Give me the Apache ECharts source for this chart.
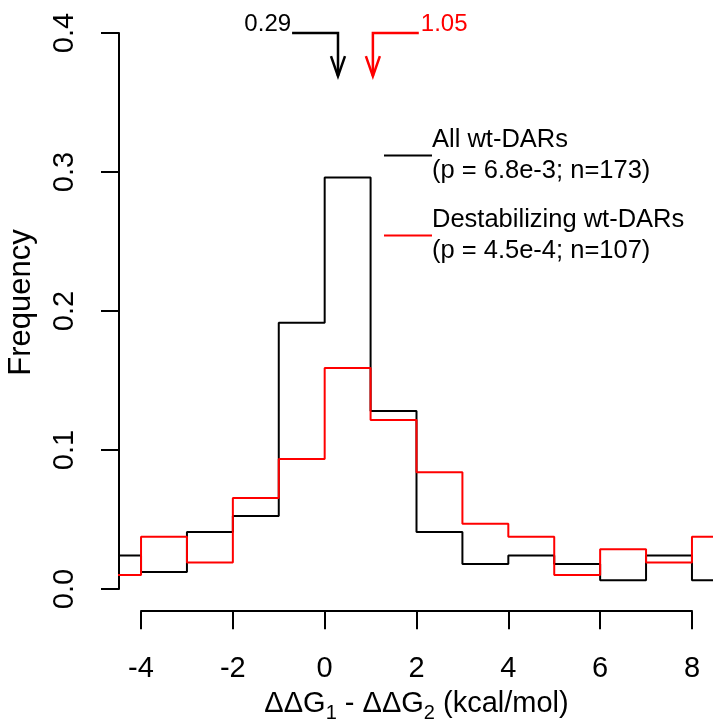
<!DOCTYPE html>
<html>
<head>
<meta charset="utf-8">
<script src="https://cdn.jsdelivr.net/npm/echarts@6/dist/echarts.min.js"></script>
<style>
  html, body { margin: 0; padding: 0; background: #ffffff; }
  #chart { width: 713px; height: 719px; }
</style>
</head>
<body>
<div id="chart"></div>
<script>
// Histogram bin edges (kcal/mol) and per-bin frequencies
const binEdges = [-5, -4, -3, -2, -1, 0, 1, 2, 3, 4, 5, 6, 7, 8, 9];
const allFreq = [0.0240, 0.0122, 0.0410, 0.0525, 0.1915, 0.2960, 0.1280,
                 0.0410, 0.0180, 0.0240, 0.0180, 0.0062, 0.0240, 0.0062];
const destabFreq = [0.0100, 0.0375, 0.0190, 0.0655, 0.0935, 0.1590, 0.1215,
                    0.0840, 0.0470, 0.0375, 0.0100, 0.0285, 0.0190, 0.0375];

// Group labels, statistics lines and colours
const groupNames = ['All wt-DARs', 'Destabilizing wt-DARs'];
const groupStats = ['(p = 6.8e-3; n=173)', '(p = 4.5e-4; n=107)'];
const groupColors = ['#000000', '#ff0000'];

// Median shift of each group, marked with an arrow at the top
const medianShift = [0.29, 1.05];

// Axis ranges and ticks
const xTickMin = -4, xTickMax = 8, xTickStep = 2;
const yTickMin = 0, yTickMax = 0.4, yTickStep = 0.1;
const xPlotMin = -4.48, xPlotMax = 8.48;
const yPlotMin = -0.016, yPlotMax = 0.416;

const FONT = '"Liberation Sans", Arial, Helvetica, sans-serif';

// Turn bins into the outline of an R-style step histogram
function stepOutline(edges, vals) {
  const pts = [];
  for (let i = 0; i < vals.length; i++) {
    pts.push([edges[i], vals[i]]);
    pts.push([edges[i + 1], vals[i]]);
  }
  return pts;
}

const chart = echarts.init(document.getElementById('chart'), null, { renderer: 'canvas' });

const plotBox = { left: 119, top: 10.8, width: 595, height: 600.4, outerBoundsMode: 'none', containLabel: false };

const option = {
  animation: false,
  backgroundColor: '#ffffff',
  textStyle: { fontFamily: FONT, color: '#000' },
  grid: [
    // plotting region
    Object.assign({}, plotBox),
    // x axis spans only the tick range
    Object.assign({}, plotBox, { left: 141, width: 551 }),
    // y axis spans only the tick range
    Object.assign({}, plotBox, { top: 33, height: 556 })
  ],
  xAxis: [
    { gridIndex: 0, type: 'value', min: xPlotMin, max: xPlotMax, show: false },
    {
      gridIndex: 1, type: 'value', min: xTickMin, max: xTickMax, interval: xTickStep,
      position: 'bottom',
      axisLine: { show: true, onZero: false, lineStyle: { color: '#000', width: 2 } },
      axisTick: { show: true, inside: false, length: 18, lineStyle: { color: '#000', width: 2 } },
      axisLabel: { show: true, fontSize: 29, color: '#000', margin: 43, fontFamily: FONT },
      splitLine: { show: false },
      name: '{a|ΔΔG}{s|1}{a| - ΔΔG}{s|2}{a| (kcal/mol)}',
      nameLocation: 'middle',
      nameGap: 78,
      nameTextStyle: {
        fontFamily: FONT,
        rich: {
          a: { fontSize: 29, lineHeight: 34, verticalAlign: 'top', color: '#000', fontFamily: FONT },
          s: { fontSize: 20, lineHeight: 20, verticalAlign: 'bottom', color: '#000', fontFamily: FONT }
        }
      }
    },
    { gridIndex: 2, type: 'value', min: xPlotMin, max: xPlotMax, show: false }
  ],
  yAxis: [
    { gridIndex: 0, type: 'value', min: yPlotMin, max: yPlotMax, show: false },
    { gridIndex: 1, type: 'value', min: yPlotMin, max: yPlotMax, show: false },
    {
      gridIndex: 2, type: 'value', min: yTickMin, max: yTickMax, interval: yTickStep,
      position: 'left',
      axisLine: { show: true, onZero: false, lineStyle: { color: '#000', width: 2 } },
      axisTick: { show: true, inside: false, length: 18, lineStyle: { color: '#000', width: 2 } },
      axisLabel: {
        show: true, fontSize: 29, color: '#000', margin: 40, rotate: 90, fontFamily: FONT,
        formatter: v => v.toFixed(1)
      },
      splitLine: { show: false },
      name: 'Frequency',
      nameLocation: 'middle',
      nameRotate: 90,
      nameGap: 82,
      nameTextStyle: { fontSize: 31, color: '#000', fontFamily: FONT, padding: [0, 0, 0, 17] }
    }
  ],
  legend: {
    data: groupNames,
    orient: 'vertical',
    left: 384,
    top: 124,
    padding: 0,
    itemWidth: 48,
    itemHeight: 2,
    itemGap: 17,
    icon: 'rect',
    selectedMode: false,
    formatter: name => name + '\n' + groupStats[groupNames.indexOf(name)],
    textStyle: {
      fontSize: 25.5, lineHeight: 31.5, color: '#000', fontFamily: FONT,
      padding: [0, 0, 0, -5]
    }
  },
  series: [
    {
      name: groupNames[0],
      type: 'line',
      xAxisIndex: 0, yAxisIndex: 0,
      data: stepOutline(binEdges, allFreq),
      showSymbol: false,
      clip: true,
      color: groupColors[0],
      lineStyle: { color: groupColors[0], width: 2 },
      z: 3
    },
    {
      name: groupNames[1],
      type: 'line',
      xAxisIndex: 0, yAxisIndex: 0,
      data: stepOutline(binEdges, destabFreq),
      showSymbol: false,
      clip: true,
      color: groupColors[1],
      lineStyle: { color: groupColors[1], width: 2 },
      z: 4
    },
    {
      // bent arrows pointing at each group's median shift
      type: 'custom',
      xAxisIndex: 0, yAxisIndex: 0,
      data: medianShift.map((m, i) => [m, i]),
      clip: false,
      silent: true,
      z: 5,
      renderItem: function (params, api) {
        const m = api.value(0);
        const i = api.value(1);
        const dir = i === 0 ? -1 : 1;
        const color = groupColors[i];
        const corner = api.coord([m, 0.4]);
        const start = api.coord([m + dir, 0.4]);
        const tip = api.coord([m, 0.369]);
        return {
          type: 'group',
          children: [
            {
              type: 'polyline',
              shape: { points: [start, corner, tip] },
              style: { stroke: color, lineWidth: 2.5, fill: null }
            },
            {
              type: 'polyline',
              shape: { points: [[tip[0] - 7, tip[1] - 20], tip, [tip[0] + 7, tip[1] - 20]] },
              style: { stroke: color, lineWidth: 2.5, fill: null }
            },
            {
              type: 'text',
              x: start[0] + (dir < 0 ? -1 : 2),
              y: start[1] - 9,
              style: {
                text: m.toFixed(2),
                fill: color,
                font: '24px ' + FONT,
                align: dir < 0 ? 'right' : 'left',
                verticalAlign: 'middle'
              }
            }
          ]
        };
      }
    }
  ]
};

chart.setOption(option);
</script>
</body>
</html>
